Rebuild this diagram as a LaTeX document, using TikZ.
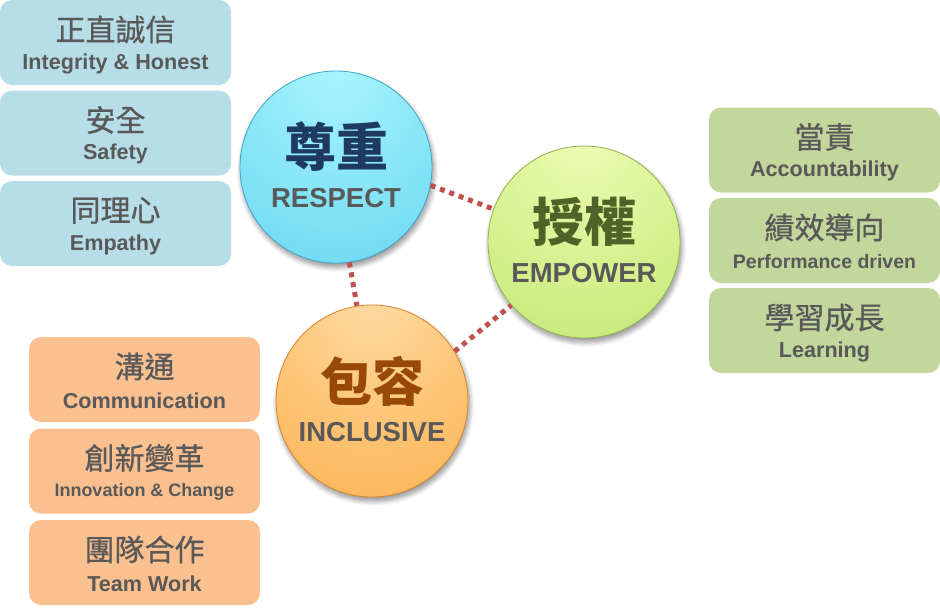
\documentclass[tikz,border=0pt]{standalone}
\usepackage{fontspec}
\setmainfont{Liberation Sans}
\newfontfamily\cjk{Noto Sans CJK TC}
\newfontfamily\cjkm{Noto Sans CJK TC}[FakeBold=0.7]
\usetikzlibrary{shadows.blur}
\definecolor{txtgray}{HTML}{595959}
\definecolor{bluebox}{HTML}{B7DEE8}
\definecolor{greenbox}{HTML}{C3D69B}
\definecolor{orangebox}{HTML}{FAC090}
\definecolor{dotred}{HTML}{C0504D}
\definecolor{respecttxt}{HTML}{1F3A60}
\definecolor{empowertxt}{HTML}{4F6228}
\definecolor{inclusivetxt}{HTML}{984807}
\definecolor{rTop}{HTML}{AAF6FE}
\definecolor{rMid}{HTML}{80E2F6}
\definecolor{rBot}{HTML}{4CC4E8}
\definecolor{rEdge}{HTML}{3AA6CC}
\definecolor{eTop}{HTML}{EEFCB4}
\definecolor{eMid}{HTML}{D2F08A}
\definecolor{eBot}{HTML}{AAD85E}
\definecolor{eEdge}{HTML}{8DB848}
\definecolor{iTop}{HTML}{FFDBA4}
\definecolor{iMid}{HTML}{FDC06C}
\definecolor{iBot}{HTML}{F59C3A}
\definecolor{iEdge}{HTML}{D98428}
\pgfdeclareradialshading{respectshade}{\pgfpoint{0bp}{28bp}}{color(0bp)=(rTop); color(32bp)=(rMid); color(75bp)=(rBot); color(100bp)=(rBot)}
\pgfdeclareradialshading{empowershade}{\pgfpoint{0bp}{28bp}}{color(0bp)=(eTop); color(32bp)=(eMid); color(75bp)=(eBot); color(100bp)=(eBot)}
\pgfdeclareradialshading{inclusiveshade}{\pgfpoint{0bp}{28bp}}{color(0bp)=(iTop); color(32bp)=(iMid); color(75bp)=(iBot); color(100bp)=(iBot)}
\tikzset{
  valuebox/.style={rectangle, rounded corners=12pt, minimum width=231pt, minimum height=85pt, inner sep=0pt, text=txtgray},
  ball/.style={circle, minimum size=192pt, inner sep=0pt, line width=0.8pt,
    blur shadow={shadow xshift=1.5pt, shadow yshift=-4pt, shadow blur radius=5pt, shadow blur steps=10, shadow opacity=45}},
  zh/.style={font=\cjkm\fontsize{30}{30}\selectfont, text=txtgray},
  bigzh/.style={font=\cjk\bfseries\fontsize{52}{52}\selectfont},
  bigen/.style={font=\bfseries\fontsize{27.5}{27.5}\selectfont, text=txtgray},
  dots/.style={draw=dotred, line width=5pt, dash pattern=on 5pt off 5pt}
}
\begin{document}
\begin{tikzpicture}[x=1pt, y=-1pt]
\useasboundingbox (0,0) rectangle (940,608);
\coordinate (rc) at (336,167);
\coordinate (ec) at (584,242);
\coordinate (ic) at (372,401);
% left blue boxes
\node[valuebox, fill=bluebox] (b1) at (115.5,42.5) {};
\node[valuebox, fill=bluebox] (b2) at (115.5,133) {};
\node[valuebox, fill=bluebox] (b3) at (115.5,223.5) {};
% right green boxes
\node[valuebox, fill=greenbox] (g1) at (824.5,150) {};
\node[valuebox, fill=greenbox] (g2) at (824.5,240.5) {};
\node[valuebox, fill=greenbox] (g3) at (824.5,330.5) {};
% orange boxes
\node[valuebox, fill=orangebox] (o1) at (144.5,379.5) {};
\node[valuebox, fill=orangebox] (o2) at (144.5,471) {};
\node[valuebox, fill=orangebox] (o3) at (144.5,562.5) {};
% box texts
\foreach \b/\z/\e/\s in {b1/正直誠信/Integrity \& Honest/21.6, b2/安全/Safety/21.6, b3/同理心/Empathy/21.6,
  g1/當責/Accountability/21.6, g2/績效導向/Performance driven/19.5, g3/學習成長/Learning/21.6,
  o1/溝通/Communication/21.6, o2/創新變革/Innovation \& Change/18, o3/團隊合作/Team Work/21.6}{
  \node[zh] (\b z) at ([yshift=13pt]\b.center) {\z};
  \node[text=txtgray, font=\bfseries\fontsize{\s}{\s}\selectfont] (\b e) at ([yshift=-21pt]\b.center) {\e};
}
% balls
\node[ball, draw=rEdge, shading=respectshade] (R) at (rc) {};
\node[ball, draw=eEdge, shading=empowershade] (E) at (ec) {};
\node[ball, draw=iEdge, shading=inclusiveshade] (I) at (ic) {};
% connectors
\draw[dots] (R.-11) -- (E.160);
\draw[dots] (R.-82) -- (I.99);
\draw[dots] (I.31) -- (E.221);
% ball texts
\foreach \n/\z/\e/\c in {R/尊重/RESPECT/respecttxt, E/授權/EMPOWER/empowertxt, I/包容/INCLUSIVE/inclusivetxt}{
  \node[bigzh, text=\c] (\n z) at ([yshift=20pt]\n.center) {\z};
  \node[bigen] (\n e) at ([yshift=-31pt]\n.center) {\e};
}
\end{tikzpicture}
\end{document}
